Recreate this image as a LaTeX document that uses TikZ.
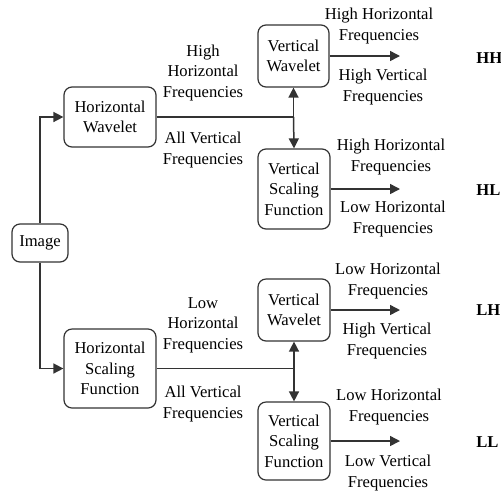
\documentclass[tikz,border=0pt]{standalone}
\usepackage{fontspec}
\setmainfont{Liberation Serif}
\usetikzlibrary{arrows.meta}
\begin{document}
\begin{tikzpicture}[x=0.5pt,y=-0.5pt,
  box/.style={draw=black!80,line width=0.6pt,rounded corners=4pt,align=center,inner sep=0pt,
    font=\fontsize{8.3}{10.3}\selectfont},
  lbl/.style={align=center,inner sep=0pt,font=\fontsize{8.3}{10.3}\selectfont},
  outlbl/.style={inner sep=0pt,anchor=west,font=\fontsize{8.3}{10.3}\selectfont\bfseries},
  arr/.style={draw=black!80,line width=0.75pt,-{Triangle[length=5pt,width=5pt]}},
  ln/.style={draw=black!80,line width=0.75pt}]
\useasboundingbox (0,0) rectangle (501,493);
% boxes
\node[box,minimum width=28pt,minimum height=19pt] (img) at (40,243) {Image};
\node[box,minimum width=46pt,minimum height=30pt] (hw) at (110,117) {Horizontal\\Wavelet};
\node[box,minimum width=46pt,minimum height=39.5pt] (hsf) at (110,368.5) {Horizontal\\Scaling\\Function};
\node[box,minimum width=35.5pt,minimum height=31pt] (vw) at (293.5,56) {Vertical\\Wavelet};
\node[box,minimum width=36pt,minimum height=40pt] (vsf) at (294,189) {Vertical\\Scaling\\Function};
\node[box,minimum width=36pt,minimum height=31pt] (vw2) at (294,310) {Vertical\\Wavelet};
\node[box,minimum width=36pt,minimum height=39pt] (vsf2) at (294,441) {Vertical\\Scaling\\Function};
% junctions and free ends
\coordinate (j1) at (vw.south |- hw.east);
\coordinate (j2) at (vw2.south |- hsf.east);
\coordinate (xr) at (400,0);
% connectors
\draw[arr] (img.north) |- (hw.west);
\draw[arr] (img.south) |- (hsf.west);
\draw[ln] (hw.east) -- (j1);
\draw[ln] (hsf.east) -- (j2);
\draw[arr] (j1) -- (vw.south);
\draw[arr] (j1) -- (vsf.north);
\draw[arr] (j2) -- (vw2.south);
\draw[arr] (j2) -- (vsf2.north);
\draw[arr] (vw.east) -- (vw.east -| xr);
\draw[arr] (vsf.east) -- (vsf.east -| xr);
\draw[arr] (vw2.east) -- (vw2.east -| xr);
\draw[arr] (vsf2.east) -- (vsf2.east -| xr);
% labels
\node[lbl] (l1) at (203,73) {High\\Horizontal\\Frequencies};
\node[lbl] (l2) at (203,150) {All Vertical\\Frequencies};
\node[lbl] (l3) at (203,325) {Low\\Horizontal\\Frequencies};
\node[lbl] (l4) at (203,404) {All Vertical\\Frequencies};
\node[lbl] (l5) at (379,26) {High Horizontal\\Frequencies};
\node[lbl] (l6) at (383,87) {High Vertical\\Frequencies};
\node[lbl] (l7) at (391,157) {High Horizontal\\Frequencies};
\node[lbl] (l8) at (393,219) {Low Horizontal\\Frequencies};
\node[lbl] (l9) at (388,281) {Low Horizontal\\Frequencies};
\node[lbl] (l10) at (387,341) {High Vertical\\Frequencies};
\node[lbl] (l11) at (389,407) {Low Horizontal\\Frequencies};
\node[lbl] (l12) at (388,473) {Low Vertical\\Frequencies};
\node[outlbl] (hh) at (476,58) {HH};
\node[outlbl] (hl) at (476,190) {HL};
\node[outlbl] (lh) at (476,310) {LH};
\node[outlbl] (ll) at (476,442) {LL};
\end{tikzpicture}
\end{document}
